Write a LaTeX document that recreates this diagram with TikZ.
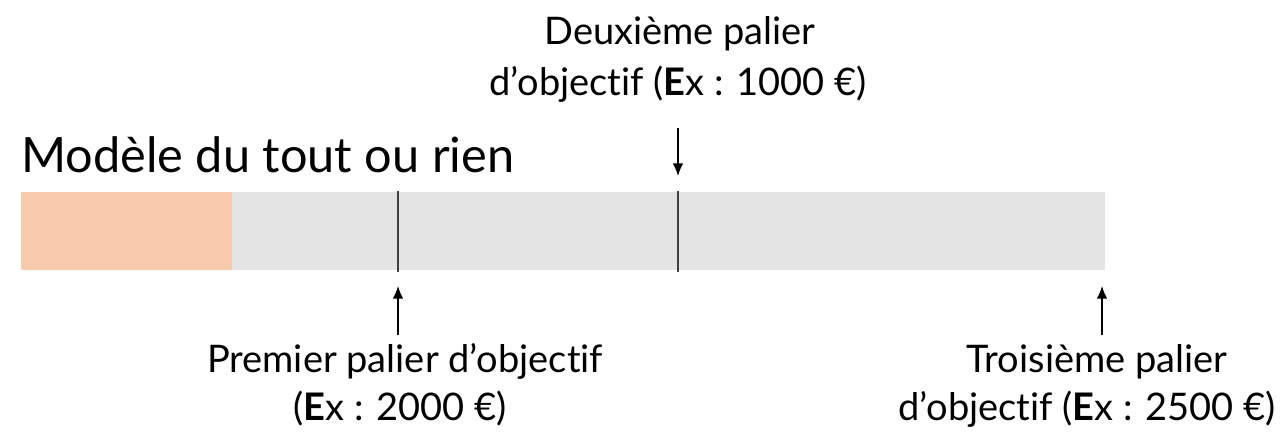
\documentclass[tikz,border=0pt]{standalone}
\usepackage{fontspec}
\setmainfont{Lato}[Ligatures={NoCommon}, RawFeature={-liga;-dlig}]
\usetikzlibrary{arrows.meta}
\definecolor{peach}{HTML}{F7CBAC}
\definecolor{bargray}{HTML}{E5E5E5}
\definecolor{tick}{HTML}{404040}
\tikzset{
  lbl/.style={align=center, inner sep=0pt, font=\fontsize{28.5}{37}\selectfont, anchor=base},
  ttl/.style={inner sep=0pt, font=\fontsize{36.5}{40}\selectfont, anchor=base west},
  marker/.style={draw=tick, line width=1.5pt},
  pointer/.style={draw=black, line width=1.1pt, -{Latex[length=9.5pt,width=8pt]}}
}
\begin{document}
\begin{tikzpicture}[x=0.75pt,y=-0.75pt]
\useasboundingbox (0,0) rectangle (1281,435);
% bar
\node[fill=peach, inner sep=0pt, minimum width=211*0.75pt, minimum height=78*0.75pt, anchor=north west] (done) at (21,192) {};
\node[fill=bargray, inner sep=0pt, minimum width=873*0.75pt, minimum height=78*0.75pt, anchor=north west] (rest) at (232,192) {};
% ticks
\coordinate (t1a) at (398,191); \coordinate (t1b) at (398,272);
\coordinate (t2a) at (678,191); \coordinate (t2b) at (678,272);
\draw[marker] (t1a) -- (t1b);
\draw[marker] (t2a) -- (t2b);
% title
\node[ttl] (title) at (21,172) {Modèle du tout ou rien};
% labels
\node[lbl] (l2a) at (680,45) {Deuxième palier};
\node[lbl] (l2b) at (678,95) {d’objectif ({\bfseries E}x : 1000 €)};
\node[lbl] (l1a) at (405,372) {Premier palier d’objectif};
\node[lbl] (l1b) at (400,420) {({\bfseries E}x : 2000 €)};
\node[lbl] (l3a) at (1097,372) {Troisième palier};
\node[lbl, anchor=base east] (l3b) at (1276,420) {d’objectif ({\bfseries E}x : 2500 €)};
% arrows
\coordinate (a2s) at (678,128); \coordinate (a2e) at (678,176);
\coordinate (a1s) at (398,335); \coordinate (a1e) at (398,286);
\coordinate (a3s) at (1102,335); \coordinate (a3e) at (1102,286);
\draw[pointer] (a2s) -- (a2e);
\draw[pointer] (a1s) -- (a1e);
\draw[pointer] (a3s) -- (a3e);
\end{tikzpicture}
\end{document}
